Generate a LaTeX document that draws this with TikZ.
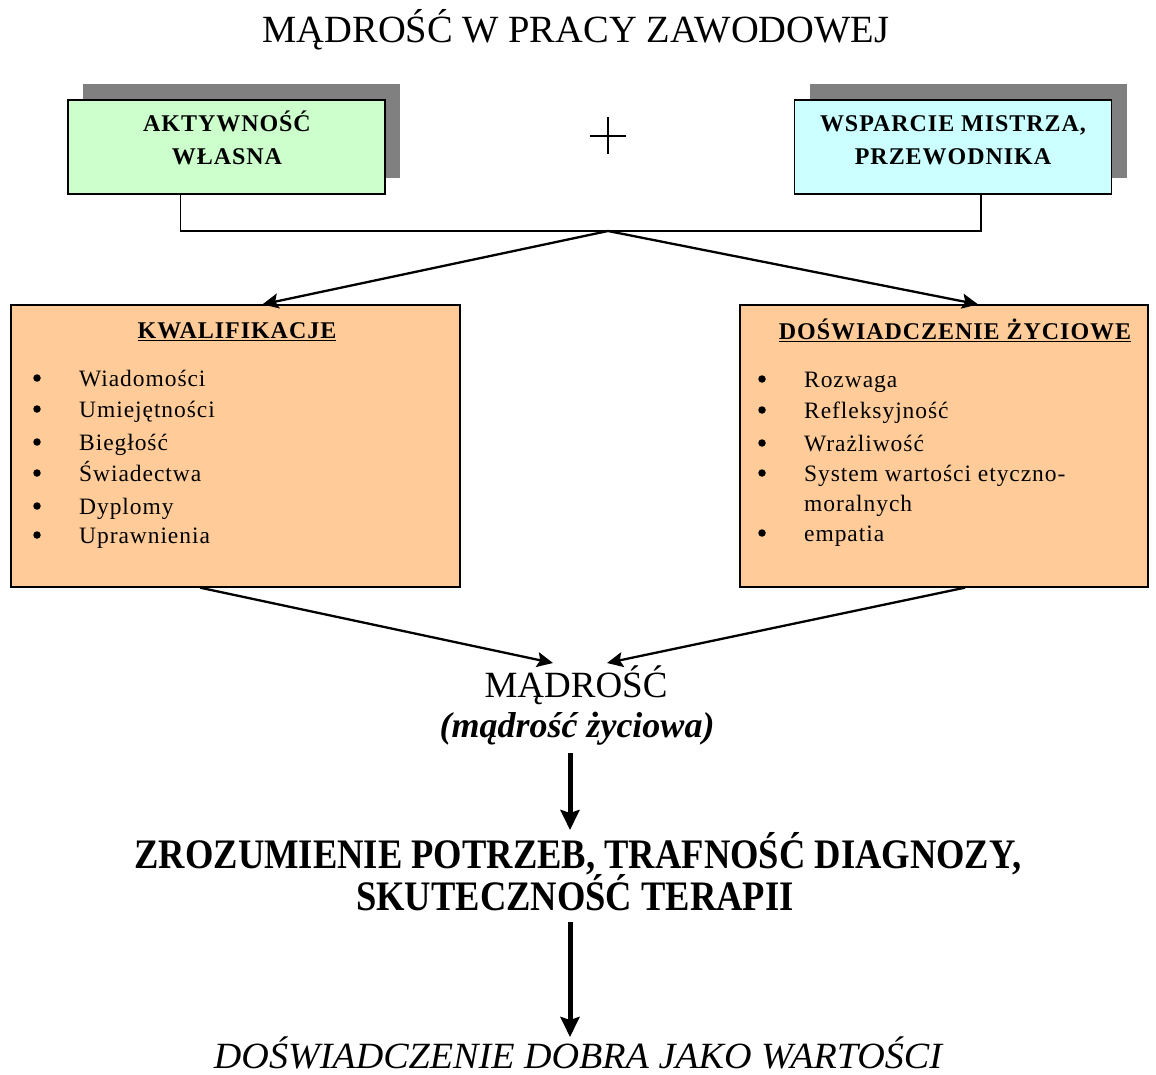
\documentclass[tikz,border=0pt]{standalone}
\usepackage{fontspec}
\setmainfont{Liberation Serif}
\usetikzlibrary{arrows.meta,shadows}
\definecolor{lgreen}{HTML}{CCFFCC}
\definecolor{lcyan}{HTML}{CCFFFF}
\definecolor{lorange}{HTML}{FFCC99}
\definecolor{shad}{HTML}{808080}
\begin{document}
\begin{tikzpicture}[x=1pt,y=-1pt,
  topbox/.style={draw=black, line width=1.3pt, inner sep=0pt,
    minimum width=317pt, minimum height=94pt,
    general shadow={fill=shad, draw=none, shadow xshift=15pt, shadow yshift=16pt}},
  orbox/.style={draw=black, line width=1.3pt, inner sep=0pt, fill=lorange, minimum height=282pt},
  btxt/.style={anchor=base, inner sep=0pt, font=\fontsize{24}{28}\selectfont\bfseries\addfontfeature{LetterSpace=4}},
  hdr/.style={anchor=base, inner sep=0pt, font=\fontsize{24}{28}\selectfont\bfseries\addfontfeature{LetterSpace=4}},
  item/.style={anchor=base west, inner sep=0pt, font=\fontsize{23.5}{28}\selectfont\addfontfeature{LetterSpace=4}},
  bul/.style={circle, fill=black, inner sep=0pt, minimum size=7.5pt},
  conn/.style={line width=1.3pt},
  arr/.style={line width=2.3pt, -{Stealth[length=16pt,width=15pt,inset=3pt]}},
  bigarr/.style={line width=5pt, -{Stealth[length=20pt,width=19pt,inset=3pt]}}
]
\useasboundingbox[fill=white] (0,0) rectangle (1156,1075);

% title
\node[anchor=base, inner sep=0pt, font=\fontsize{38.5}{46}\selectfont] (title) at (576,43) {MĄDROŚĆ W PRACY ZAWODOWEJ};

% top boxes
\node[topbox, fill=lgreen] (akt) at (226.5,147) {};
\node[btxt] (akt1) at (227,132) {AKTYWNOŚĆ};
\node[btxt] (akt2) at (227,165) {WŁASNA};

\node[topbox, fill=lcyan] (wsp) at (953,147) {};
\node[btxt] (wsp1) at (953,132) {WSPARCIE MISTRZA,};
\node[btxt] (wsp2) at (953,165) {PRZEWODNIKA};

% plus sign
\draw[line width=1.3pt] (590,136) -- (626,136) (608,117) -- (608,154);

% bracket connector
\coordinate (apex) at (608,231);
\draw[conn] ([xshift=113pt]akt.south west) |- (apex) -| ([xshift=187pt]wsp.south west);

% orange boxes
\node[orbox, minimum width=449pt] (kw) at (235.5,446) {};
\node[orbox, minimum width=408pt] (dos) at (944,446) {};

\draw[arr] (apex) -- ([xshift=27pt]kw.north);
\draw[arr] (apex) -- ([xshift=34pt]dos.north);

\node[hdr] (kwh) at (237,338) {\underline{KWALIFIKACJE}};
\node[hdr] (dosh) at (955,339) {\underline{DOŚWIADCZENIE ŻYCIOWE}};

% left list
\foreach \t/\y [count=\i] in {Wiadomości/386, Umiejętności/417, Biegłość/450, Świadectwa/481, Dyplomy/514, Uprawnienia/543}{
  \node[bul] (kb\i) at (37,\y-8) {};
  \node[item] (ki\i) at (79,\y) {\t};
}
% right list
\foreach \t/\y [count=\i] in {Rozwaga/387, Refleksyjność/418, Wrażliwość/451, System wartości etyczno-/481, empatia/541}{
  \node[bul] (db\i) at (762,\y-8) {};
  \node[item] (di\i) at (804,\y) {\t};
}
\node[item] (di6) at (804,511) {moralnych};

% wisdom
\node[anchor=base, inner sep=0pt, font=\fontsize{37}{44}\selectfont] (mad) at (576,697) {MĄDROŚĆ};
\node[anchor=base, inner sep=0pt, font=\fontsize{36}{44}\selectfont\bfseries\itshape] (madz) at (577,737) {(mądrość życiowa)};

\coordinate (m1) at (553,663);
\coordinate (m2) at (607,663);
\draw[arr] ([xshift=-35.5pt]kw.south) -- (m1);
\draw[arr] ([xshift=21pt]dos.south) -- (m2);

% understanding
\node[anchor=base, inner sep=0pt, font=\fontsize{42}{48}\selectfont\bfseries] (zr1) at (578,868) {\scalebox{0.87}[1]{ZROZUMIENIE POTRZEB, TRAFNOŚĆ DIAGNOZY,}};
\node[anchor=base, inner sep=0pt, font=\fontsize{42}{48}\selectfont\bfseries] (zr2) at (575,910) {\scalebox{0.87}[1]{SKUTECZNOŚĆ TERAPII}};

\coordinate (v1a) at (570,753);
\coordinate (v1b) at (570,830);
\draw[bigarr] (v1a) -- (v1b);

\coordinate (v2a) at (570,922);
\coordinate (v2b) at (570,1037);
\draw[bigarr] (v2a) -- (v2b);

% final
\node[anchor=base, inner sep=0pt, text depth=0pt, font=\fontsize{37}{44}\selectfont\itshape] (dob) at (578,1068) {\scalebox{1.03}[1]{DOŚWIADCZENIE DOBRA JAKO WARTOŚCI}};
\end{tikzpicture}
\end{document}
